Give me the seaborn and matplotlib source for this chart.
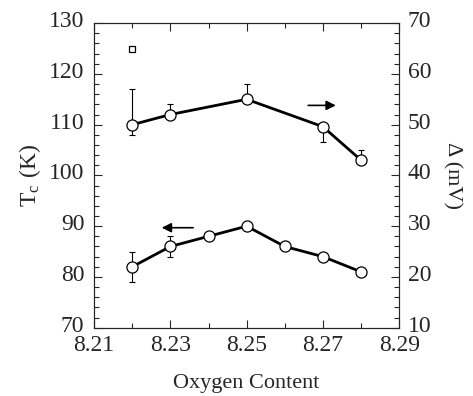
import matplotlib
matplotlib.use("Agg")
import matplotlib.pyplot as plt
from matplotlib.ticker import MultipleLocator
from matplotlib.transforms import ScaledTranslation
import seaborn as sns
import pandas as pd

# data
oxygen_tc = [8.22, 8.23, 8.24, 8.25, 8.26, 8.27, 8.28]
tc_values = [82, 86, 88, 90, 86, 84, 81]
tc_err_low = [3, 2, 0, 0, 0, 0, 0]
tc_err_high = [3, 2, 0, 0, 0, 0, 0]

oxygen_gap = [8.22, 8.23, 8.25, 8.27, 8.28]
gap_values = [50, 52, 55, 49.6, 43]
gap_err_low = [2, 0, 0, 3, 0]
gap_err_high = [7, 2, 3, 0, 2]

square_x = [8.22]
square_tc = [125]

sns.set_style("ticks")
plt.rcParams["font.family"] = ["Liberation Serif", "DejaVu Serif"]
plt.rcParams["mathtext.fontset"] = "stix"

fig = plt.figure(figsize=(4.73, 3.96), dpi=100)
ax = fig.add_axes([0.199, 0.1725, 0.645, 0.769])
ax2 = ax.twinx()

df_tc = pd.DataFrame({"x": oxygen_tc, "y": tc_values})
df_gap = pd.DataFrame({"x": oxygen_gap, "y": gap_values})

ax.errorbar(oxygen_tc, tc_values, yerr=[tc_err_low, tc_err_high], fmt="none",
            ecolor="black", elinewidth=0.8, capsize=2.5, capthick=0.8, zorder=1)
sns.lineplot(data=df_tc, x="x", y="y", ax=ax, color="black", linewidth=2,
             marker="o", markersize=8, markerfacecolor="white",
             markeredgecolor="black", markeredgewidth=0.9, zorder=3)
ax.plot(square_x, square_tc, marker="s", markersize=5, markerfacecolor="white",
        markeredgecolor="black", markeredgewidth=0.9, linestyle="none")

ax2.errorbar(oxygen_gap, gap_values, yerr=[gap_err_low, gap_err_high], fmt="none",
             ecolor="black", elinewidth=0.8, capsize=2.5, capthick=0.8, zorder=1)
sns.lineplot(data=df_gap, x="x", y="y", ax=ax2, color="black", linewidth=2,
             marker="o", markersize=8, markerfacecolor="white",
             markeredgecolor="black", markeredgewidth=0.9, zorder=3)

# arrows pointing to the axis each curve belongs to
ax.annotate("", xy=(8.227, 89.7), xytext=(8.2367, 89.7),
            arrowprops=dict(arrowstyle="-|>", color="black", lw=1.2,
                            mutation_scale=14))
ax2.annotate("", xy=(8.2741, 53.8), xytext=(8.2654, 53.8),
             arrowprops=dict(arrowstyle="-|>", color="black", lw=1.2,
                             mutation_scale=14))

ax.set_xlim(8.21, 8.29)
ax.set_ylim(70, 130)
ax2.set_ylim(10, 70)
ax.set_xticks([8.21, 8.23, 8.25, 8.27, 8.29])
ax.set_xticklabels(["8.21", "8.23", "8.25", "8.27", "8.29"])
ax.xaxis.set_minor_locator(MultipleLocator(0.01))
ax.yaxis.set_major_locator(MultipleLocator(10))
ax.yaxis.set_minor_locator(MultipleLocator(2))
ax2.yaxis.set_major_locator(MultipleLocator(10))
ax2.yaxis.set_minor_locator(MultipleLocator(2))

ax.tick_params(which="both", direction="in", top=True, right=False,
               labelsize=17, width=0.8)
ax.tick_params(axis="y", pad=7)
ax.tick_params(axis="x", pad=5)
ax.tick_params(which="major", length=6)
ax.tick_params(which="minor", length=3.5)
ax2.tick_params(which="both", direction="in", labelsize=17, width=0.8, pad=6)
ax2.tick_params(which="major", length=6)
ax2.tick_params(which="minor", length=3.5)

ax.set_xlabel("Oxygen Content", fontsize=16, labelpad=13)
ax.set_ylabel(r"T$_\mathregular{c}$ (K)", fontsize=17, labelpad=4)
ax2.set_ylabel("Δ (mV)", fontsize=16, rotation=270, labelpad=22)

for a in (ax, ax2):
    for s in a.spines.values():
        s.set_linewidth(0.8)

# y tick labels sit a little above their ticks in the reference
shift = ScaledTranslation(0, 3 / 72, fig.dpi_scale_trans)
for lab in ax.get_yticklabels() + ax2.get_yticklabels():
    lab.set_transform(lab.get_transform() + shift)

fig.savefig("out.png", dpi=100)
